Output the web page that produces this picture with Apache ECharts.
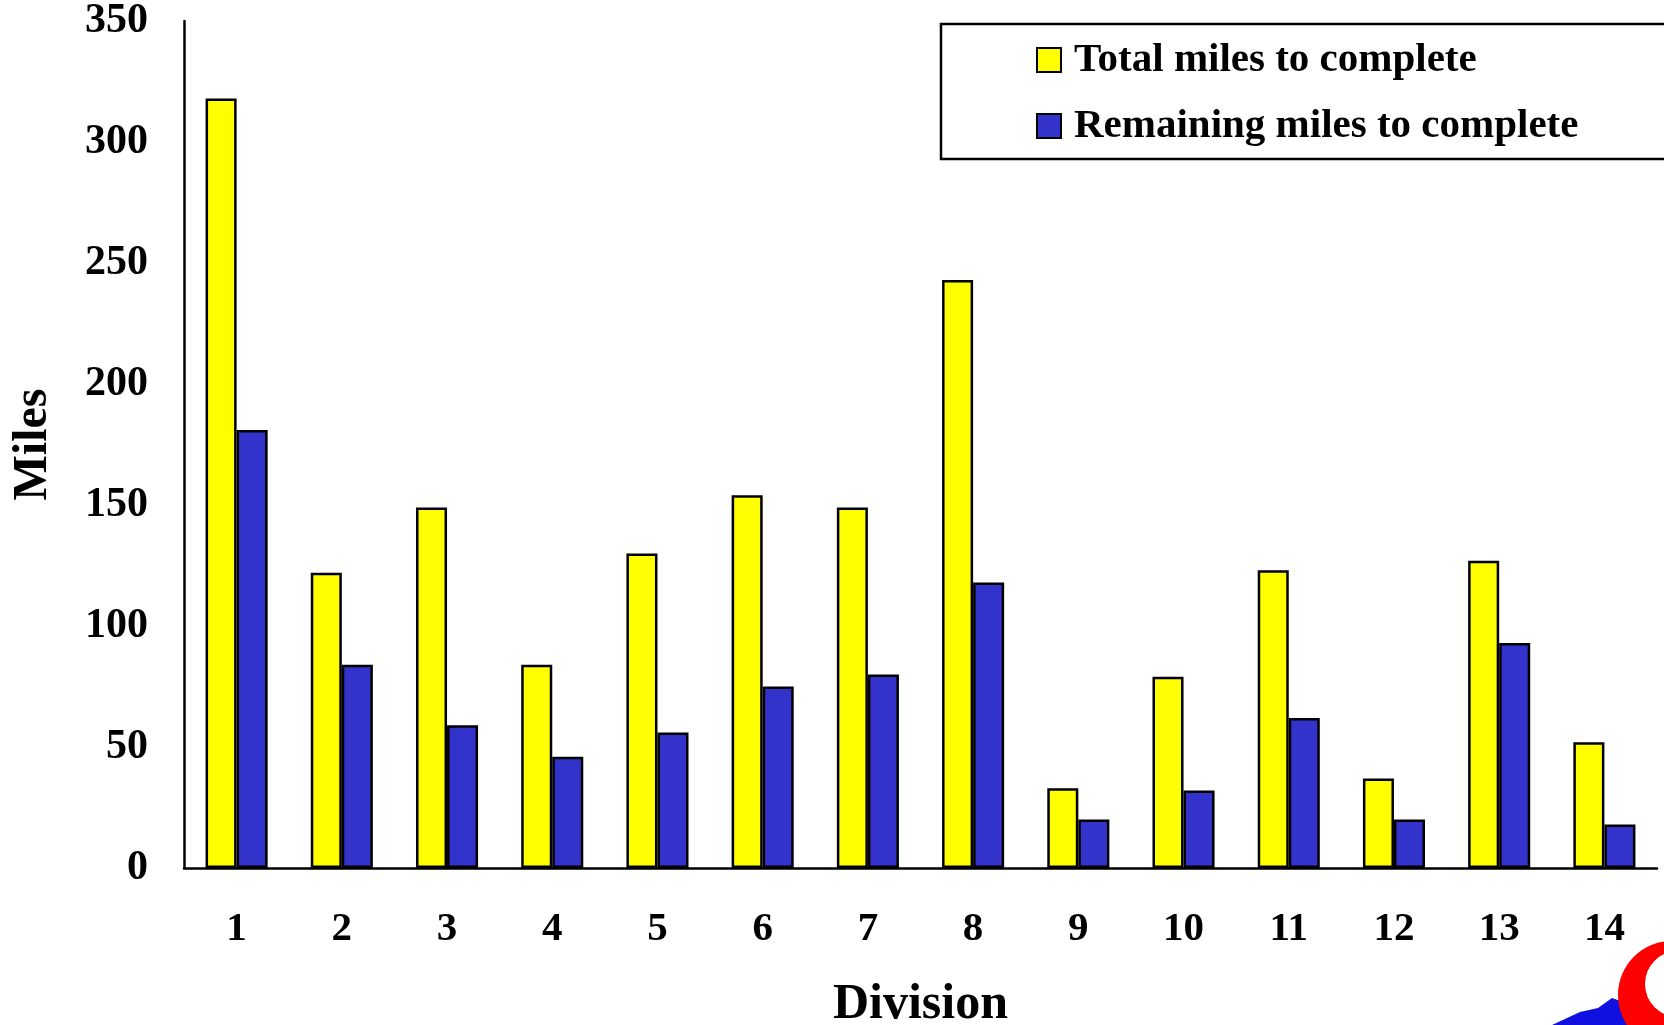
<!DOCTYPE html>
<html>
<head>
<meta charset="utf-8">
<title>Miles by Division</title>
<script src="https://cdn.jsdelivr.net/npm/echarts@6/dist/echarts.min.js"></script>
<style>
  html, body { margin: 0; padding: 0; background: #fff; }
  #chart { width: 1664px; height: 1025px; }
</style>
</head>
<body>
<div id="chart"></div>
<script>
// divisions along the x axis
var divisions = ['1', '2', '3', '4', '5', '6', '7', '8', '9', '10', '11', '12', '13', '14'];
// total miles to complete (yellow)
var totalMiles = [318, 122, 149, 84, 130, 154, 149, 243, 33, 79, 123, 37, 127, 52];
// remaining miles to complete (blue)
var remainingMiles = [181, 84, 59, 46, 56, 75, 80, 118, 20, 32, 62, 20, 93, 18];
var yTicks = { min: 0, max: 350, step: 50 };

var font = "'Liberation Serif', 'Times New Roman', serif";

var myChart = echarts.init(document.getElementById('chart'));
myChart.setOption({
  backgroundColor: '#fff',
  animation: false,
  grid: {
    left: 184,
    right: 7,
    top: 21,
    bottom: 157,
    outerBoundsMode: 'none'
  },
  legend: {
    orient: 'vertical',
    left: 941,
    top: 24,
    itemWidth: 24,
    itemHeight: 24,
    itemGap: 24,
    padding: [15, 200, 12, 95],
    borderColor: '#000',
    borderWidth: 2.5,
    backgroundColor: '#fff',
    icon: 'rect',
    textStyle: {
      fontFamily: font,
      fontWeight: 'bold',
      fontSize: 41,
      lineHeight: 42,
      color: '#000',
      padding: [0, 0, 0, 8]
    },
    data: ['Total miles to complete', 'Remaining miles to complete']
  },
  xAxis: {
    type: 'category',
    data: divisions,
    name: 'Division',
    nameLocation: 'middle',
    nameGap: 112,
    nameTextStyle: { fontFamily: font, fontWeight: 'bold', fontSize: 50, color: '#000' },
    axisLine: { show: true, lineStyle: { color: '#000', width: 2.5 } },
    axisTick: { show: false },
    axisLabel: {
      margin: 41,
      fontFamily: font,
      fontWeight: 'bold',
      fontSize: 41,
      color: '#000'
    },
    splitLine: { show: false }
  },
  yAxis: {
    type: 'value',
    min: yTicks.min,
    max: yTicks.max,
    interval: yTicks.step,
    name: 'Miles',
    nameLocation: 'middle',
    nameGap: 126,
    nameRotate: 90,
    nameTextStyle: { fontFamily: font, fontWeight: 'bold', fontSize: 48, color: '#000' },
    axisLine: { show: true, lineStyle: { color: '#000', width: 2.5 } },
    axisTick: { show: false },
    axisLabel: {
      margin: 36,
      fontFamily: font,
      fontWeight: 'bold',
      fontSize: 42,
      color: '#000'
    },
    splitLine: { show: false }
  },
  // bit of the logo peeking in at the bottom right corner
  graphic: [
    {
      type: 'polygon',
      shape: { points: [[1552, 1025], [1580, 1012], [1598, 1008], [1612, 998], [1626, 1003], [1630, 1025]] },
      style: { fill: '#1010e0' },
      silent: true
    },
    {
      type: 'circle',
      shape: { cx: 1672, cy: 995, r: 54 },
      style: { fill: '#ff0000' },
      silent: true
    },
    {
      type: 'circle',
      shape: { cx: 1678, cy: 984, r: 33 },
      style: { fill: '#fff' },
      silent: true
    }
  ],
  series: [
    {
      name: 'Total miles to complete',
      type: 'bar',
      data: totalMiles,
      barGap: '0%',
      barCategoryGap: '41%',
      itemStyle: { color: '#ffff00', borderColor: '#000', borderWidth: 2.5 }
    },
    {
      name: 'Remaining miles to complete',
      type: 'bar',
      data: remainingMiles,
      itemStyle: { color: '#3333cc', borderColor: '#000', borderWidth: 2.5 }
    }
  ]
});
window.onresize = function () { myChart.resize(); };
</script>
</body>
</html>
